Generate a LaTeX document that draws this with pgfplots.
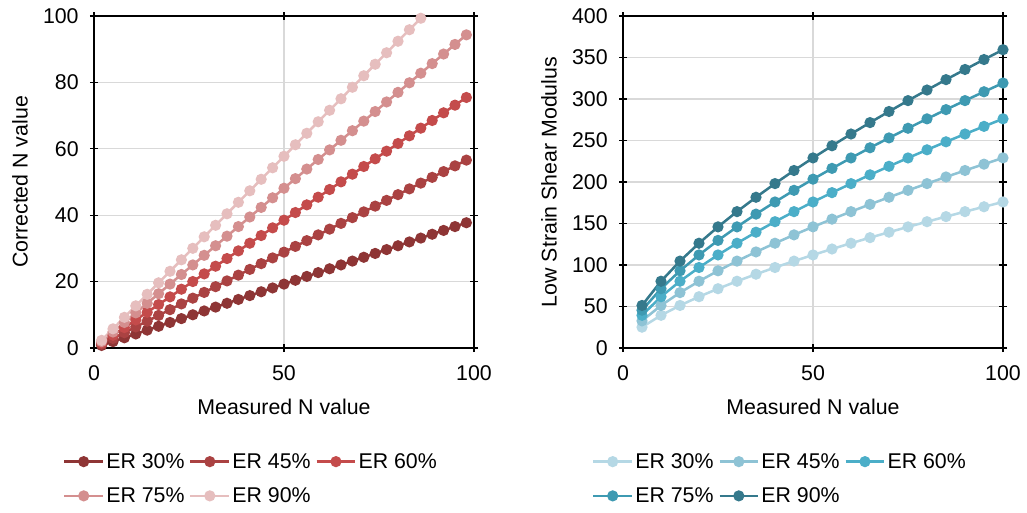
\documentclass[border=0pt]{standalone}
\usepackage{pgfplots}
\pgfplotsset{compat=1.18}
\usepackage{pgfplotstable}
\usepackage{fontspec}
\setmainfont{Liberation Sans}

\definecolor{rA}{HTML}{8E3535}
\definecolor{rB}{HTML}{AA4242}
\definecolor{rC}{HTML}{C44B4B}
\definecolor{rD}{HTML}{D48F8F}
\definecolor{rE}{HTML}{E6BEBE}
\definecolor{bA}{HTML}{B5D8E5}
\definecolor{bB}{HTML}{8EC3D5}
\definecolor{bC}{HTML}{4BAEC8}
\definecolor{bD}{HTML}{3E9AB2}
\definecolor{bE}{HTML}{35798C}
\definecolor{gridc}{HTML}{D9D9D9}

\pgfplotstableread{
x  e30    e45     e60   e75     e90
2  0.77   1.155   1.54  1.925   2.31
5  1.925  2.888   3.85  4.813   5.775
8  3.08   4.62    6.16  7.7     9.24
11 4.235  6.353   8.47  10.588  12.705
14 5.39   8.085   10.78 13.475  16.17
17 6.545  9.818   13.09 16.363  19.635
20 7.7    11.55   15.4  19.25   23.1
23 8.855  13.283  17.71 22.138  26.565
26 10.01  15.015  20.02 25.025  30.03
29 11.165 16.748  22.33 27.913  33.495
32 12.32  18.48   24.64 30.8    36.96
35 13.475 20.213  26.95 33.688  40.425
38 14.63  21.945  29.26 36.575  43.89
41 15.785 23.678  31.57 39.463  47.355
44 16.94  25.41   33.88 42.35   50.82
47 18.095 27.143  36.19 45.238  54.285
50 19.25  28.875  38.5  48.125  57.75
53 20.405 30.608  40.81 51.013  61.215
56 21.56  32.34   43.12 53.9    64.68
59 22.715 34.073  45.43 56.788  68.145
62 23.87  35.805  47.74 59.675  71.61
65 25.025 37.538  50.05 62.563  75.075
68 26.18  39.27   52.36 65.45   78.54
71 27.335 41.003  54.67 68.338  82.005
74 28.49  42.735  56.98 71.225  85.47
77 29.645 44.468  59.29 74.113  88.935
80 30.8   46.2    61.6  77.0    92.4
83 31.955 47.933  63.91 79.888  95.865
86 33.11  49.665  66.22 82.775  99.33
89 34.265 51.398  68.53 85.663  nan
92 35.42  53.13   70.84 88.55   nan
95 36.575 54.863  73.15 91.438  nan
98 37.73  56.595  75.46 94.325  nan
}\leftdata

\pgfplotstableread{
x   e30     e45     e60     e75     e90
5   25.10   32.68   39.39   45.54   51.27
10  39.39   51.27   61.81   71.46   80.45
15  51.27   66.74   80.45   93.02   104.72
20  61.81   80.46   96.99   112.13  126.24
25  71.45   93.02   112.13  129.64  145.95
30  80.44   104.72  126.23  145.94  164.31
35  88.92   115.75  139.53  161.32  181.62
40  96.99   126.26  152.19  175.96  198.10
45  104.71  136.31  164.31  189.98  213.88
50  112.13  145.97  175.95  203.43  229.02
55  119.29  155.29  187.19  216.42  243.65
60  126.22  164.31  198.06  228.99  257.81
65  132.97  173.09  208.65  241.23  271.59
70  139.52  181.62  218.93  253.12  284.97
75  145.93  189.97  228.99  264.75  298.07
80  152.17  198.09  238.79  276.08  310.82
85  158.31  206.08  248.42  287.21  323.35
90  164.30  213.88  257.81  298.08  335.58
95  170.17  221.52  267.03  308.73  347.57
100 175.96  229.06  276.12  319.24  359.41
}\rightdata

\pgfplotsset{
  mystyle/.style={
    scale only axis,
    width=285pt, height=249pt,
    xmin=0, xmax=100,
    xtick={0,50,100},
    axis line style={black, line width=0.9pt},
    tick style={black, line width=0.9pt},
    major tick length=6pt,
    tick align=center,
    xmajorgrids, ymajorgrids,
    grid style={gridc, line width=0.8pt},
    tick label style={font=\fontsize{16}{18}\selectfont},
    xticklabel style={yshift=-7pt},
    yticklabel style={xshift=-5pt},
    label style={font=\fontsize{16}{18}\selectfont},
    /pgf/number format/assume math mode=true,
    xlabel={Measured N value},
    xlabel style={at={(axis description cs:0.5,-0.178)}, anchor=center},
    ylabel style={at={(axis description cs:-0.195,0.5)}, anchor=center, rotate=0},
    every axis plot/.append style={line width=1.9pt, mark=*, mark size=3.2pt},
    legend columns=3,
    legend cell align=left,
    legend style={draw=none, font=\fontsize{16}{18}\selectfont,
      /tikz/every even column/.append style={column sep=2pt},
      row sep=10pt, inner sep=0pt,
      nodes={inner sep=1.5pt}},
    legend image code/.code={\draw[mark repeat=2,mark phase=2] plot coordinates {(0pt,0pt)(14.5pt,0pt)(29pt,0pt)};},
  }
}

\begin{document}
\begin{tikzpicture}
\path[use as bounding box] (-70.5pt,-123pt) rectangle (699.75pt,261pt);

\begin{axis}[mystyle,
  at={(0pt,0pt)}, anchor=south west,
  ymin=0, ymax=100, ytick={0,20,40,60,80,100},
  ylabel={Corrected N value},
  legend style={at={(axis description cs:-0.082,-0.31)}, anchor=north west},
]
\addplot[color=rA] table[x=x,y=e30] {\leftdata};
\addplot[color=rB] table[x=x,y=e45] {\leftdata};
\addplot[color=rC] table[x=x,y=e60] {\leftdata};
\addplot[color=rD] table[x=x,y=e75] {\leftdata};
\addplot[color=rE] table[x=x,y=e90] {\leftdata};
\legend{ER 30\%, ER 45\%, ER 60\%, ER 75\%, ER 90\%}
\end{axis}

\begin{axis}[mystyle,
  at={(396.75pt,0pt)}, anchor=south west,
  ymin=0, ymax=400, ytick={0,50,100,150,200,250,300,350,400},
  ylabel={Low Strain Shear Modulus},
  legend style={at={(axis description cs:-0.082,-0.31)}, anchor=north west},
]
\addplot[color=bA] table[x=x,y=e30] {\rightdata};
\addplot[color=bB] table[x=x,y=e45] {\rightdata};
\addplot[color=bC] table[x=x,y=e60] {\rightdata};
\addplot[color=bD] table[x=x,y=e75] {\rightdata};
\addplot[color=bE] table[x=x,y=e90] {\rightdata};
\legend{ER 30\%, ER 45\%, ER 60\%, ER 75\%, ER 90\%}
\end{axis}
\end{tikzpicture}
\end{document}
